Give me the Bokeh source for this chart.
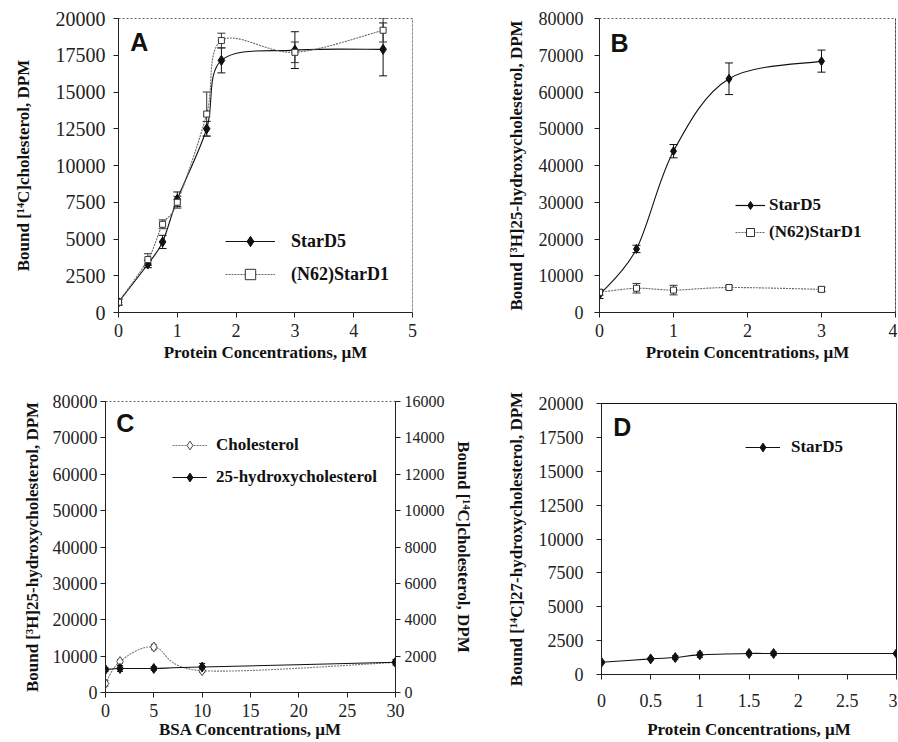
import numpy as np
from bokeh.plotting import figure
from bokeh.layouts import row, column
from bokeh.models import (ColumnDataSource, Whisker, Legend, LegendItem, Range1d,
                          LinearAxis, FixedTicker, Label, Span)
from bokeh.embed import file_html
from bokeh.resources import INLINE

SERIF = "Liberation Serif"
SANS = "Liberation Sans"

# ---------------- data ----------------
# Panel A
a_x = [0, 0.5, 0.75, 1, 1.5, 1.75, 3, 4.5]
a_stard5 = [700, 3300, 4800, 7700, 12500, 17150, 17850, 17900]
a_stard5_err = [200, 250, 450, 500, 500, 850, 1250, 1800]
a_n62 = [700, 3600, 6000, 7500, 13500, 18500, 17700, 19200]
a_n62_err = [200, 400, 300, 400, 1500, 500, 700, 800]
a_xticks = [0, 1, 2, 3, 4, 5]
a_xlabels = ["0", "1", "2", "3", "4", "5"]
a_yticks = [0, 2500, 5000, 7500, 10000, 12500, 15000, 17500, 20000]
a_ylabels = ["0", "2500", "5000", "7500", "10000", "12500", "15000", "17500", "20000"]

# Panel B
b_x = [0, 0.5, 1, 1.75, 3]
b_stard5 = [4800, 17300, 43900, 63600, 68400]
b_stard5_err = [1000, 1000, 1800, 4300, 3000]
b_n62 = [5500, 6600, 6100, 6800, 6300]
b_n62_err = [800, 1300, 1300, 500, 600]
b_xticks = [0, 1, 2, 3, 4]
b_xlabels = ["0", "1", "2", "3", "4"]
b_yticks = [0, 10000, 20000, 30000, 40000, 50000, 60000, 70000, 80000]
b_ylabels = ["0", "10000", "20000", "30000", "40000", "50000", "60000", "70000", "80000"]

# Panel C
c_x = [0, 1.5, 5, 10, 30]
c_cholesterol = [500, 1700, 2500, 1200, 1650]        # right axis
c_cholesterol_err = [150, 100, 150, 100, 100]
c_hydroxy = [6300, 6600, 6600, 7000, 8300]           # left axis
c_hydroxy_err = [500, 800, 500, 1000, 800]
c_xticks = [0, 5, 10, 15, 20, 25, 30]
c_xlabels = ["0", "5", "10", "15", "20", "25", "30"]
c_yticks = [0, 10000, 20000, 30000, 40000, 50000, 60000, 70000, 80000]
c_ylabels = ["0", "10000", "20000", "30000", "40000", "50000", "60000", "70000", "80000"]
c_y2ticks = [0, 2000, 4000, 6000, 8000, 10000, 12000, 14000, 16000]
c_y2labels = ["0", "2000", "4000", "6000", "8000", "10000", "12000", "14000", "16000"]

# Panel D
d_x = [0, 0.5, 0.75, 1, 1.5, 1.75, 3]
d_stard5 = [900, 1150, 1250, 1450, 1550, 1550, 1550]
d_stard5_err = [100, 100, 150, 200, 100, 150, 100]
d_xticks = [0, 0.5, 1, 1.5, 2, 2.5, 3]
d_xlabels = ["0", "0.5", "1", "1.5", "2", "2.5", "3"]
d_yticks = [0, 2500, 5000, 7500, 10000, 12500, 15000, 17500, 20000]
d_ylabels = ["0", "2500", "5000", "7500", "10000", "12500", "15000", "17500", "20000"]


# ---------------- helpers ----------------
def smooth_segments(x, y):
    """Bezier control points for a smoothed line through the data points."""
    x = np.asarray(x, float)
    y = np.asarray(y, float)
    xm = np.concatenate([[x[0]], x, [x[-1]]])
    ym = np.concatenate([[y[0]], y, [y[-1]]])
    x0, x1, y0, y1 = x[:-1], x[1:], y[:-1], y[1:]
    cx0 = x0 + (x1 - xm[:-3]) / 6.0
    cy0 = y0 + (y1 - ym[:-3]) / 6.0
    cx1 = x1 - (xm[3:] - x0) / 6.0
    cy1 = y1 - (ym[3:] - y0) / 6.0
    return ColumnDataSource(dict(x0=x0, y0=y0, x1=x1, y1=y1,
                                 cx0=cx0, cy0=cy0, cx1=cx1, cy1=cy1))


def make_fig(width, height, xr, yr, bl, br, bt, bb, outline="#666666", outline_dash="2 2"):
    p = figure(width=width, height=height,
               x_range=Range1d(*xr), y_range=Range1d(*yr),
               output_backend="svg", toolbar_location=None,
               min_border_left=bl, min_border_right=br,
               min_border_top=bt, min_border_bottom=bb)
    p.grid.visible = False
    p.outline_line_color = outline
    p.outline_line_dash = outline_dash
    p.outline_line_width = 1
    p.background_fill_color = "white"
    p.border_fill_color = "white"
    return p


def style_axis(ax, ticks, labels, title, tick_standoff, label_standoff, tick_size="18px"):
    ax.ticker = FixedTicker(ticks=ticks)
    ax.major_label_overrides = {t: l for t, l in zip(ticks, labels)}
    ax.axis_label = title
    ax.axis_label_text_font = SERIF
    ax.axis_label_text_font_style = "bold"
    ax.axis_label_text_font_size = "17px"
    ax.axis_label_text_color = "#111111"
    ax.major_label_text_font = SERIF
    ax.major_label_text_font_size = tick_size
    ax.major_label_text_color = "#222222"
    ax.major_tick_in = 0
    ax.major_tick_out = 5
    ax.minor_tick_line_color = None
    ax.axis_line_color = "#222222"
    ax.major_tick_line_color = "#222222"
    ax.major_label_standoff = tick_standoff
    ax.axis_label_standoff = label_standoff


def add_series(p, x, y, err, marker, size, fill, line_col, curve_col, curve_dash,
               y_range_name="default", head=8):
    src = smooth_segments(x, y)
    p.bezier(x0="x0", y0="y0", x1="x1", y1="y1", cx0="cx0", cy0="cy0",
             cx1="cx1", cy1="cy1", source=src, line_color=curve_col,
             line_dash=curve_dash, line_width=1.1, y_range_name=y_range_name)
    ya = np.asarray(y, float)
    ea = np.asarray(err, float)
    wsrc = ColumnDataSource(dict(x=list(x), upper=list(ya + ea), lower=list(ya - ea)))
    w = Whisker(source=wsrc, base="x", upper="upper", lower="lower",
                line_color=line_col, line_width=1, y_range_name=y_range_name)
    w.upper_head.size = head
    w.lower_head.size = head
    w.upper_head.line_color = line_col
    w.lower_head.line_color = line_col
    p.add_layout(w)
    sr = p.scatter(x=list(x), y=list(y), marker=marker, size=size,
                   fill_color=fill, line_color=line_col, line_width=1,
                   y_range_name=y_range_name)
    # one-point line: draws nothing in the plot, gives the legend its line sample
    lr = p.line(x=[x[0]], y=[y[0]], line_color=curve_col, line_dash=curve_dash,
                line_width=1.2, y_range_name=y_range_name)
    return lr, sr


def add_legend(p, items, vx, vy, gw, gh, standoff, spacing, size="17px"):
    leg = Legend(items=items, location=(vx, vy), glyph_width=gw, glyph_height=gh,
                 label_height=gh, label_standoff=standoff, spacing=spacing,
                 padding=0, margin=0, border_line_color=None,
                 background_fill_alpha=0, label_text_font=SERIF,
                 label_text_font_style="bold", label_text_font_size=size,
                 label_text_color="#111111")
    p.add_layout(leg)


def panel_letter(p, text, x, y):
    p.add_layout(Label(x=x, y=y, text=text, text_font=SANS, text_font_style="bold",
                       text_font_size="25px", text_baseline="middle", text_align="left",
                       text_color="#111111"))


# ---------------- Panel A ----------------
pa = make_fig(448, 370, (0, 5), (0, 20000), 118, 36, 18, 58)
style_axis(pa.xaxis[0], a_xticks, a_xlabels, "Protein Concentrations, µM", 6, 3)
style_axis(pa.yaxis[0], a_yticks, a_ylabels, "Bound [¹⁴C]cholesterol, DPM", 8, 20,
           tick_size="20px")
pa.add_layout(Span(location=5, dimension="height", line_color="#999999", line_width=1))
a1l, a1s = add_series(pa, a_x, a_stard5, a_stard5_err, "diamond", 10, "#111111",
                      "#111111", "#111111", "solid")
a2l, a2s = add_series(pa, a_x, a_n62, a_n62_err, "square", 6, "white",
                      "#333333", "#666666", "2 1")
add_legend(pa, [LegendItem(label="StarD5", renderers=[a1l, a1s]),
                LegendItem(label="(N62)StarD1", renderers=[a2l, a2s])],
           107, 25, 50, 26, 16, 7, size="18px")
panel_letter(pa, "A", 0.2, 18435)

# ---------------- Panel B ----------------
pb = make_fig(449, 370, (0, 4), (0, 80000), 151, 2, 18, 58)
style_axis(pb.xaxis[0], b_xticks, b_xlabels, "Protein Concentrations, µM", 6, 3)
style_axis(pb.yaxis[0], b_yticks, b_ylabels, "Bound [³H]25-hydroxycholesterol, DPM", 11, 10)
pb.add_layout(Span(location=4, dimension="height", line_color="#222222", line_width=1))
b1l, b1s = add_series(pb, b_x, b_stard5, b_stard5_err, "diamond", 9, "#111111",
                      "#111111", "#111111", "solid")
b2l, b2s = add_series(pb, b_x, b_n62, b_n62_err, "square", 6, "white",
                      "#333333", "#666666", "2 1")
add_legend(pb, [LegendItem(label="StarD5", renderers=[b1l, b1s]),
                LegendItem(label="(N62)StarD1", renderers=[b2l, b2s])],
           136, 70, 30, 20, 4, 7)
panel_letter(pb, "B", 0.15, 73200)

# ---------------- Panel C ----------------
pc = make_fig(475, 371, (0, 30), (0, 80000), 105, 79, 31, 49)
pc.extra_y_ranges = {"right": Range1d(0, 16000)}
style_axis(pc.xaxis[0], c_xticks, c_xlabels, "BSA Concentrations, µM", 6, 0)
style_axis(pc.yaxis[0], c_yticks, c_ylabels, "Bound [³H]25-hydroxycholesterol, DPM", 3, 8)
rax = LinearAxis(y_range_name="right")
style_axis(rax, c_y2ticks, c_y2labels, "Bound [¹⁴C]cholesterol, DPM", 4, 6, tick_size="16px")
pc.add_layout(rax, "right")
c1l, c1s = add_series(pc, c_x, c_cholesterol, c_cholesterol_err, "diamond", 10, "white",
                      "#444444", "#777777", "2 1", y_range_name="right", head=6)
c2l, c2s = add_series(pc, c_x, c_hydroxy, c_hydroxy_err, "diamond", 10, "#111111",
                      "#111111", "#111111", "solid", head=6)
add_legend(pc, [LegendItem(label="Cholesterol", renderers=[c1l, c1s]),
                LegendItem(label="25-hydroxycholesterol", renderers=[c2l, c2s])],
           67, 204, 35, 22, 9, 10)
panel_letter(pc, "C", 1.1, 73970)

# ---------------- Panel D ----------------
pd_ = make_fig(422, 371, (0, 3), (0, 20000), 126, 1, 33, 63,
               outline="#111111", outline_dash="solid")
style_axis(pd_.xaxis[0], d_xticks, d_xlabels, "Protein Concentrations, µM", 14, 10)
style_axis(pd_.yaxis[0], d_yticks, d_ylabels, "Bound [¹⁴C]27-hydroxycholesterol, DPM", 13, 10)
d1l, d1s = add_series(pd_, d_x, d_stard5, d_stard5_err, "diamond", 10, "#111111",
                      "#111111", "#111111", "solid", head=6)
add_legend(pd_, [LegendItem(label="StarD5", renderers=[d1l, d1s])],
           144, 216, 35, 22, 11, 0)
panel_letter(pd_, "D", 0.12, 18255)

layout = column(row(column(pa), column(pb), spacing=0),
                row(column(pc), column(pd_), spacing=0), spacing=0)

open("out.html", "w").write(file_html(layout, INLINE))
